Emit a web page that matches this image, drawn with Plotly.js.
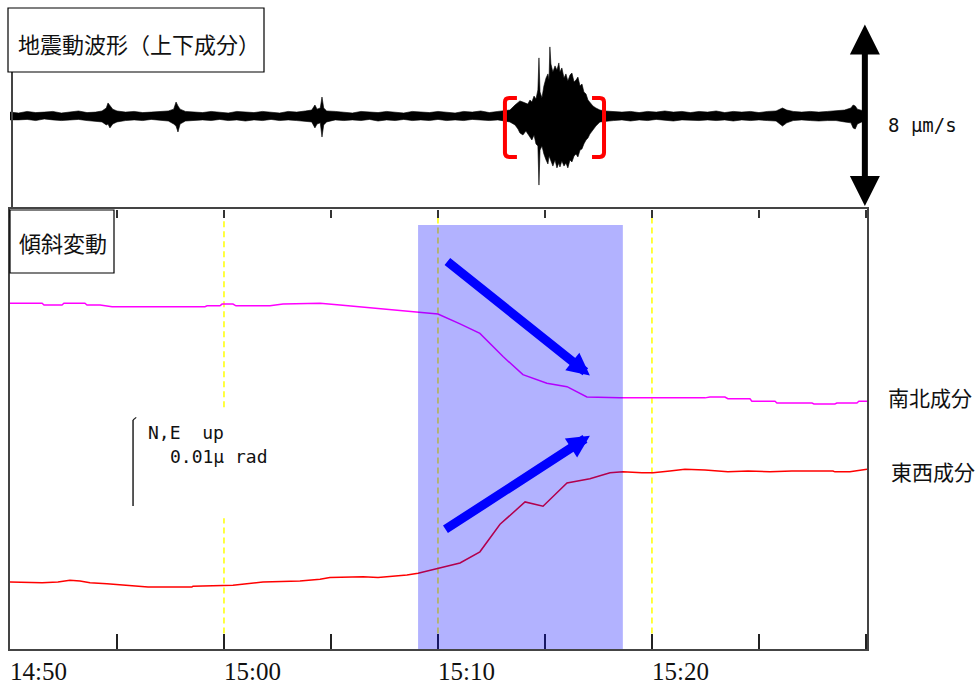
<!DOCTYPE html>
<html><head><meta charset="utf-8">
<script src="https://cdn.plot.ly/plotly-3.0.1.min.js"></script>
<style>html,body{margin:0;padding:0;background:#fff;} #chart{width:976px;height:686px;}</style>
</head><body><div id="chart"></div>
<script>
// ---- time axis (minutes after 14:50) ----
const tickMinutes = [0, 5, 10, 15, 20, 25, 30, 35, 40];
const tickLabels  = ['14:50', '', '15:00', '', '15:10', '', '15:20', '', ''];
const guideMinutes = [10, 20, 30];          // yellow dashed guide lines
const eventWindow = [19.07, 28.64];          // shaded period (minutes)

// ---- seismogram envelope, vertical component (μm/s) ----
const seisT = [
  0, 0.4, 0.8, 1.2, 1.6, 2.0, 2.4, 2.8, 3.2, 3.6,
  4.0, 4.3, 4.5, 4.58, 4.67, 4.8, 5.0, 5.4, 5.8, 6.2,
  6.6, 7.0, 7.4, 7.65, 7.76, 7.85, 7.95, 8.2, 8.6, 9.0,
  9.4, 9.8, 10.2, 10.6, 11.0, 11.4, 11.8, 12.2, 12.6, 13.0,
  13.4, 13.8, 14.1, 14.25, 14.35, 14.5, 14.58, 14.66, 14.8, 15.2,
  15.6, 16.0, 16.4, 16.8, 17.2, 17.6, 18.0, 18.4, 18.8, 19.2,
  19.6, 20.0, 20.4, 20.8, 21.2, 21.6, 22.0, 22.4, 22.8, 23.13,
  23.36, 23.6, 23.74, 23.83, 23.97, 24.11, 24.2, 24.3, 24.39, 24.49,
  24.58, 24.67, 24.72, 24.77, 24.86, 24.95, 25.05, 25.14, 25.19, 25.23,
  25.28, 25.37, 25.47, 25.56, 25.65, 25.7, 25.79, 25.89, 25.98, 26.07,
  26.17, 26.26, 26.36, 26.45, 26.54, 26.64, 26.73, 26.82, 26.92, 27.01,
  27.1, 27.24, 27.38, 27.57, 27.8, 28.2, 28.6, 29.0, 29.4, 29.8,
  30.2, 30.6, 31.0, 31.4, 31.8, 32.2, 32.6, 33.0, 33.4, 33.8,
  34.2, 34.6, 35.0, 35.4, 35.8, 36.1, 36.3, 36.6, 37.0, 37.4,
  37.8, 38.2, 38.6, 39.0, 39.3, 39.4, 39.5, 39.6, 39.9
];
const seisUp = [
  0.17, 0.13, 0.20, 0.15, 0.17, 0.20, 0.13, 0.17, 0.22, 0.15,
  0.17, 0.22, 0.35, 0.57, 0.44, 0.30, 0.22, 0.17, 0.20, 0.15,
  0.17, 0.20, 0.22, 0.30, 0.61, 0.44, 0.30, 0.20, 0.17, 0.15,
  0.20, 0.17, 0.13, 0.20, 0.17, 0.15, 0.20, 0.17, 0.13, 0.20,
  0.17, 0.22, 0.26, 0.48, 0.30, 0.35, 0.83, 0.35, 0.22, 0.20,
  0.17, 0.13, 0.20, 0.17, 0.15, 0.20, 0.17, 0.13, 0.20, 0.17,
  0.15, 0.20, 0.17, 0.13, 0.20, 0.17, 0.22, 0.15, 0.20, 0.22,
  0.26, 0.48, 0.61, 0.66, 0.61, 0.57, 0.52, 0.70, 0.61, 0.87,
  0.74, 1.14, 2.54, 1.05, 0.79, 1.31, 1.66, 1.84, 1.57, 3.02,
  2.27, 1.92, 2.19, 2.01, 2.32, 1.92, 2.10, 1.66, 1.84, 1.53,
  1.79, 1.88, 1.49, 1.57, 1.70, 1.31, 1.40, 1.05, 0.96, 0.70,
  0.61, 0.44, 0.35, 0.26, 0.22, 0.20, 0.17, 0.20, 0.15, 0.20,
  0.17, 0.22, 0.17, 0.20, 0.15, 0.20, 0.17, 0.22, 0.15, 0.20,
  0.17, 0.20, 0.15, 0.20, 0.22, 0.35, 0.26, 0.20, 0.17, 0.20,
  0.17, 0.20, 0.22, 0.26, 0.35, 0.48, 0.44, 0.30, 0.22
];
const seisLo = [
  -0.17, -0.17, -0.15, -0.20, -0.13, -0.17, -0.20, -0.17, -0.15, -0.20,
  -0.22, -0.26, -0.39, -0.35, -0.52, -0.35, -0.26, -0.20, -0.17, -0.20,
  -0.15, -0.20, -0.22, -0.35, -0.44, -0.70, -0.35, -0.22, -0.20, -0.17,
  -0.20, -0.15, -0.20, -0.17, -0.22, -0.17, -0.20, -0.15, -0.20, -0.17,
  -0.20, -0.22, -0.26, -0.52, -0.35, -0.30, -0.92, -0.39, -0.26, -0.17,
  -0.20, -0.17, -0.20, -0.15, -0.22, -0.17, -0.20, -0.15, -0.20, -0.17,
  -0.20, -0.15, -0.20, -0.17, -0.20, -0.15, -0.17, -0.20, -0.17, -0.22,
  -0.26, -0.39, -0.57, -0.74, -0.83, -0.66, -0.79, -0.92, -1.05, -0.83,
  -1.22, -1.31, -3.02, -1.49, -1.31, -1.66, -1.92, -2.10, -1.75, -1.84,
  -2.01, -2.19, -1.92, -2.27, -2.05, -2.23, -1.97, -2.19, -2.05, -2.27,
  -1.92, -2.01, -1.75, -1.66, -1.79, -1.49, -1.44, -1.22, -1.05, -0.96,
  -0.79, -0.61, -0.44, -0.26, -0.22, -0.20, -0.17, -0.22, -0.17, -0.20,
  -0.15, -0.20, -0.22, -0.17, -0.20, -0.20, -0.17, -0.20, -0.17, -0.22,
  -0.17, -0.20, -0.17, -0.20, -0.22, -0.44, -0.30, -0.20, -0.17, -0.20,
  -0.22, -0.20, -0.20, -0.26, -0.30, -0.52, -0.57, -0.35, -0.22
];
const seisScale = 8;      // μm/s, double arrow
const seisLabel = '8\u00a0μm/s';

// ---- tilt (relative, in 0.001 μrad) ----
const nsT = [0, 1.50, 1.59, 2.43, 2.52, 3.50, 3.60, 4.21, 4.77, 9.11,
  9.21, 9.81, 9.91, 10.42, 10.56, 12.15, 12.76, 14.49, 15.42, 16.36,
  17.52, 18.69, 20.00, 21.03, 21.96, 23.04, 23.97, 25.09, 26.03, 26.96,
  28.50, 32.48, 32.71, 33.41, 33.55, 34.58, 34.67, 35.75, 35.84, 37.48,
  37.57, 38.55, 38.64, 39.58, 39.67, 40.05];
const nsV = [40.2, 40.2, 40.0, 40.0, 40.2, 40.2, 40.0, 40.0, 39.8, 39.8,
  39.9, 39.9, 40.1, 40.1, 39.9, 39.9, 40.1, 40.2, 40.0, 39.8,
  39.5, 39.3, 38.95, 37.8, 36.7, 34.0, 31.9, 30.9, 30.5, 29.3,
  29.2, 29.2, 29.3, 29.3, 29.1, 29.1, 28.8, 28.8, 28.6, 28.6,
  28.5, 28.5, 28.6, 28.6, 28.8, 28.8];
const ewT = [0, 1.50, 2.24, 2.80, 3.27, 3.74, 4.53, 5.51, 6.45, 8.50,
  8.55, 10.42, 11.21, 11.82, 13.55, 14.49, 14.95, 16.50, 17.20, 17.76,
  18.55, 19.07, 20.00, 21.03, 21.96, 22.90, 24.07, 24.91, 26.03, 27.10,
  28.04, 28.64, 29.53, 30.05, 30.84, 31.54, 32.48, 33.55, 34.49, 35.51,
  36.54, 38.46, 38.55, 39.25, 40.05];
const ewV = [7.8, 7.7, 7.8, 8.0, 7.9, 7.7, 7.6, 7.4, 7.2, 7.2,
  7.3, 7.4, 7.6, 7.8, 7.9, 8.1, 8.3, 8.4, 8.3, 8.4,
  8.6, 8.8, 9.4, 10.0, 11.3, 14.5, 17.1, 16.6, 19.3, 19.8,
  20.5, 20.6, 20.5, 20.5, 20.7, 20.9, 20.8, 20.6, 20.7, 20.6,
  20.7, 20.7, 20.6, 20.6, 20.9];
const tiltScale = 10;     // 0.01 μrad scale bar
const seriesNames = ['南北成分', '東西成分'];
const panelTitles = ['地震動波形（上下成分）', '傾斜変動'];
const scaleTexts = ['N,E\u00a0\u00a0up', '0.01μ\u00a0rad'];

[[seisT, seisUp, seisLo], [nsT, nsV], [ewT, ewV]].forEach(g => {
  g.forEach(a => { if (a.length !== g[0].length) throw new Error('length mismatch ' + a.length + ' vs ' + g[0].length); });
});

// ---- geometry ----
const W = 976, H = 686, ML = 10, MR = 109, MT = 10, MB = 37;
const PW = W - ML - MR, PH = H - MT - MB;
const splitPx = 209;
const lowTop = (H - MB - splitPx) / PH;
const xMax = 40.05;
const lowRange = [0, 51.16];
const seisRange = [-4.066, 4.634];
const px = x => (x - ML) / PW;
const py = y => (H - MB - y) / PH;

const cjk = 'Noto Sans CJK JP, Noto Sans, sans-serif';
const mono = 'DejaVu Sans Mono, Liberation Mono, monospace';

// seismogram drawn as envelope polygon
const seisPolyX = seisT.concat(seisT.slice().reverse());
const seisPolyY = seisUp.concat(seisLo.slice().reverse());

const traces = [
  {x: seisPolyX, y: seisPolyY, xaxis: 'x2', yaxis: 'y2', type: 'scatter', mode: 'lines',
   fill: 'toself', fillcolor: '#000', line: {color: '#000', width: 0.6}, hoverinfo: 'skip'},
  {x: nsT, y: nsV, type: 'scatter', mode: 'lines', name: seriesNames[0],
   line: {color: '#ff00ff', width: 1.5}},
  {x: ewT, y: ewV, type: 'scatter', mode: 'lines', name: seriesNames[1],
   line: {color: '#ff0000', width: 1.5}}
];

const shapes = [];
// yellow dashed guides
const gTop = 50.2, gBot = 1.8;
guideMinutes.forEach(m => {
  const segs = (m === 10) ? [[gBot, 15.2], [28.1, gTop]] : [[gBot, gTop]];
  segs.forEach(s => shapes.push({type: 'line', xref: 'x', yref: 'y', x0: m, x1: m, y0: s[0], y1: s[1],
    line: {color: '#ffff00', width: 1.5, dash: '6px,4px'}, layer: 'below'}));
});
// shaded event period
shapes.push({type: 'rect', xref: 'x', yref: 'y', x0: eventWindow[0], x1: eventWindow[1], y0: 0, y1: 49.3,
  fillcolor: 'rgba(0,0,255,0.3)', line: {width: 0}, layer: 'above'});
// red brackets around the main shaking
function bracket(xOuter, xInner, yTop, yBot) {
  const dx = (xInner > xOuter ? 1 : -1) * 0.2, dy = 0.18;
  return `M ${xInner},${yTop} L ${xOuter + dx},${yTop} Q ${xOuter},${yTop} ${xOuter},${yTop - dy} ` +
         `L ${xOuter},${yBot + dy} Q ${xOuter},${yBot} ${xOuter + dx},${yBot} L ${xInner},${yBot}`;
}
shapes.push({type: 'path', xref: 'x2', yref: 'y2', path: bracket(23.13, 23.69, 0.79, -1.79),
  line: {color: '#ff0000', width: 4}, layer: 'above'});
shapes.push({type: 'path', xref: 'x2', yref: 'y2', path: bracket(27.76, 27.2, 0.79, -1.79),
  line: {color: '#ff0000', width: 4}, layer: 'above'});
// tilt scale bar
const barT = 5.75, barBase = 16.63;
shapes.push({type: 'line', xref: 'x', yref: 'y', x0: barT, x1: barT, y0: barBase, y1: barBase + tiltScale,
  line: {color: '#222', width: 1.5}, layer: 'above'});
shapes.push({type: 'line', xref: 'x', yref: 'y', x0: barT, x1: barT + 0.15, y0: barBase + tiltScale, y1: barBase + tiltScale + 0.3,
  line: {color: '#222', width: 1.2}, layer: 'above'});
// panel title boxes
shapes.push({type: 'rect', xref: 'paper', yref: 'paper', x0: px(8), x1: px(264), y0: py(72), y1: py(8),
  fillcolor: '#fff', line: {color: '#000', width: 1.2}, layer: 'above'});
shapes.push({type: 'rect', xref: 'paper', yref: 'paper', x0: px(10), x1: px(114), y0: py(273), y1: py(210),
  fillcolor: '#fff', line: {color: '#000', width: 1.2}, layer: 'above'});

const annotations = [
  {xref: 'paper', yref: 'paper', x: px(16), y: py(43), xanchor: 'left', yanchor: 'middle', showarrow: false,
   text: panelTitles[0], font: {family: cjk, size: 22, color: '#111'}},
  {xref: 'paper', yref: 'paper', x: px(17), y: py(242), xanchor: 'left', yanchor: 'middle', showarrow: false,
   text: panelTitles[1], font: {family: cjk, size: 22, color: '#111'}},
  {xref: 'paper', yref: 'paper', x: px(886), y: py(397), xanchor: 'left', yanchor: 'middle', showarrow: false,
   text: seriesNames[0], font: {family: cjk, size: 21, color: '#111'}},
  {xref: 'paper', yref: 'paper', x: px(889), y: py(471), xanchor: 'left', yanchor: 'middle', showarrow: false,
   text: seriesNames[1], font: {family: cjk, size: 21, color: '#111'}},
  {xref: 'paper', yref: 'paper', x: px(886), y: py(125), xanchor: 'left', yanchor: 'middle', showarrow: false,
   text: seisLabel, font: {family: mono, size: 19, color: '#111'}},
  {xref: 'paper', yref: 'paper', x: px(146), y: py(432), xanchor: 'left', yanchor: 'middle', showarrow: false,
   text: scaleTexts[0], font: {family: mono, size: 18, color: '#111'}},
  {xref: 'paper', yref: 'paper', x: px(168), y: py(456), xanchor: 'left', yanchor: 'middle', showarrow: false,
   text: scaleTexts[1], font: {family: mono, size: 18, color: '#111'}},
  // blue trend arrows
  {xref: 'x', yref: 'y', axref: 'x', ayref: 'y', x: 27.1, y: 31.8, ax: 20.37, ay: 45.2, text: '',
   showarrow: true, arrowhead: 2, arrowsize: 0.5, arrowwidth: 9, arrowcolor: '#0000ff'},
  {xref: 'x', yref: 'y', axref: 'x', ayref: 'y', x: 27.1, y: 24.8, ax: 20.28, ay: 13.8, text: '',
   showarrow: true, arrowhead: 2, arrowsize: 0.5, arrowwidth: 9, arrowcolor: '#0000ff'},
  // amplitude double arrow
  {xref: 'x2', yref: 'y2', axref: 'x2', ayref: 'y2', x: 39.95, y: seisScale / 2, ax: 39.95, ay: -seisScale / 2, text: '',
   showarrow: true, arrowside: 'end+start', arrowhead: 2, startarrowhead: 2, arrowsize: 1, startarrowsize: 1,
   arrowwidth: 6, arrowcolor: '#000'}
];
// time tick labels, left-aligned at their ticks
tickMinutes.forEach((m, i) => {
  if (!tickLabels[i]) return;
  annotations.push({xref: 'x', yref: 'paper', x: m, y: py(671), xanchor: 'left', yanchor: 'middle',
    showarrow: false, text: tickLabels[i], xshift: -2,
    font: {family: 'Liberation Serif, DejaVu Serif, serif', size: 25, color: '#111'}});
});

const layout = {
  width: W, height: H, autosize: false,
  margin: {l: ML, r: MR, t: MT, b: MB, pad: 0},
  paper_bgcolor: '#fff', plot_bgcolor: 'rgba(0,0,0,0)',
  showlegend: false,
  xaxis: {domain: [0, 1], anchor: 'y', range: [0, xMax], showgrid: false, zeroline: false,
    showline: true, mirror: true, linecolor: '#444', linewidth: 2,
    tickmode: 'array', tickvals: tickMinutes, showticklabels: false,
    ticks: 'inside', ticklen: 15, tickwidth: 1.5, tickcolor: '#222'},
  yaxis: {domain: [0, lowTop], anchor: 'x', range: lowRange, showgrid: false, zeroline: false,
    showline: true, mirror: true, linecolor: '#444', linewidth: 2, ticks: '', showticklabels: false},
  xaxis2: {domain: [0, 1], anchor: 'y2', range: [0, xMax], showgrid: false, zeroline: false,
    showline: false, tickmode: 'array', tickvals: tickMinutes, ticks: 'outside', ticklen: 8,
    tickwidth: 1.5, tickcolor: '#333', showticklabels: false},
  yaxis2: {domain: [lowTop, 1], anchor: 'free', position: 2 / PW, range: seisRange, showgrid: false,
    zeroline: false, showline: true, linecolor: '#444', linewidth: 2, ticks: '', showticklabels: false},
  shapes: shapes,
  annotations: annotations
};

Plotly.newPlot('chart', traces, layout, {staticPlot: true, displayModeBar: false});
</script>
</body></html>
